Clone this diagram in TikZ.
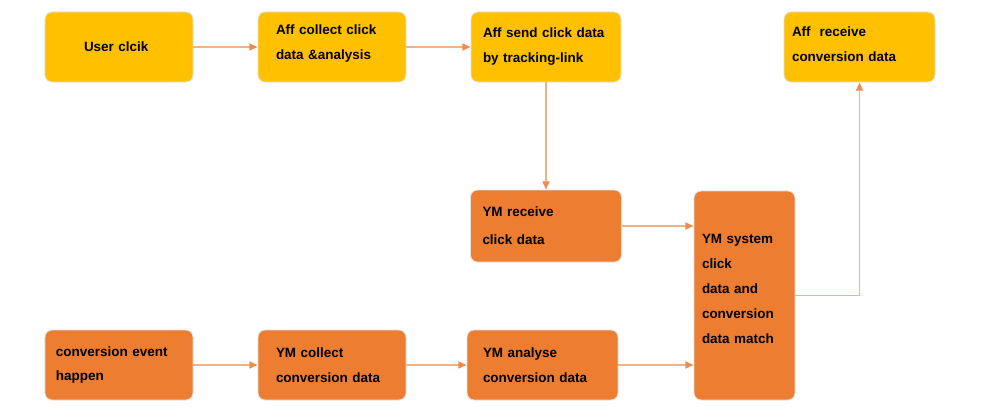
\documentclass[tikz,border=0pt]{standalone}
\usepackage{fontspec}
\setmainfont{Liberation Sans}
\usepackage{tikz}
\usetikzlibrary{arrows.meta}
\definecolor{affyellow}{HTML}{FFC000}
\definecolor{ymorange}{HTML}{ED7D31}
\definecolor{linkline}{HTML}{F4B183}
\definecolor{linktip}{HTML}{EF8C50}
\tikzset{
every picture/.style={x=0.03cm, y=-0.03cm},
%%%%%%%%%%  Node styles
stepbox/.style={draw=black!12, line width=0.8pt, rounded corners=6pt,
                minimum height=2.1cm, align=left, inner ysep=0pt,
                font=\fontsize{11.5pt}{21.3pt}\selectfont\bfseries},
affbox/.style={stepbox, fill=affyellow},
ymbox/.style={stepbox, fill=ymorange},
%%%%%%% connectors
link/.style={draw=linkline, line width=1.5pt,
             -{Triangle[length=7pt, width=6pt, color=linktip]}}
}

\begin{document}
\begin{tikzpicture}
\useasboundingbox (0,0) rectangle (987,418);
%%%% top row
\node[affbox, inner xsep=1.17cm, text width=2.1cm] (usr) at (119,47) {User clcik};
\node[affbox, inner xsep=0.54cm, text width=3.36cm] (collect) at (332,47)
     {Aff collect click\\ data \&analysis\\[-0.45cm]\mbox{}};
\node[affbox, inner xsep=0.36cm, text width=3.78cm] (send) at (546,47)
     {\mbox{}\\[-0.5cm]Aff send click data\\ by tracking-link};
\node[affbox, inner xsep=0.24cm, text width=4.05cm] (affrecv) at (859.5,47)
     {Aff\ \ receive\\ conversion data\\[-0.55cm]\mbox{}};
%%%% middle
\node[ymbox, inner xsep=0.36cm, text width=3.81cm, minimum height=2.16cm,
      font=\fontsize{11.5pt}{24pt}\selectfont\bfseries] (ymrecv) at (546,226)
     {YM receive\\ click data};
\node[ymbox, inner xsep=0.24cm, text width=2.55cm, minimum height=6.27cm] (match)
     at (744.5,295.5) {YM system\\ click\\ data and\\ conversion\\ data match\\[-0.35cm]\mbox{}};
%%%% bottom row
\node[ymbox, inner xsep=0.33cm, text width=3.78cm] (event) at (119,365)
     {conversion event\\ happen};
\node[ymbox, inner xsep=0.54cm, text width=3.36cm] (ymcollect) at (332,365)
     {YM collect\\ conversion data};
\node[ymbox, inner xsep=0.48cm, text width=3.57cm] (analyse) at (542.5,365)
     {YM analyse\\ conversion data};
%%%% connectors
\draw[link] (usr) -- (collect);
\draw[link] (collect) -- (send);
\draw[link] (send.south) -- (ymrecv.north);
\draw[link] (ymrecv) -- (ymrecv -| match.west);
\draw[link] (event) -- (ymcollect);
\draw[link] (ymcollect) -- (analyse);
\draw[link] (analyse) -- (analyse -| match.west);
\draw[link] (match.east) -| (affrecv.south);
\end{tikzpicture}
\end{document}
